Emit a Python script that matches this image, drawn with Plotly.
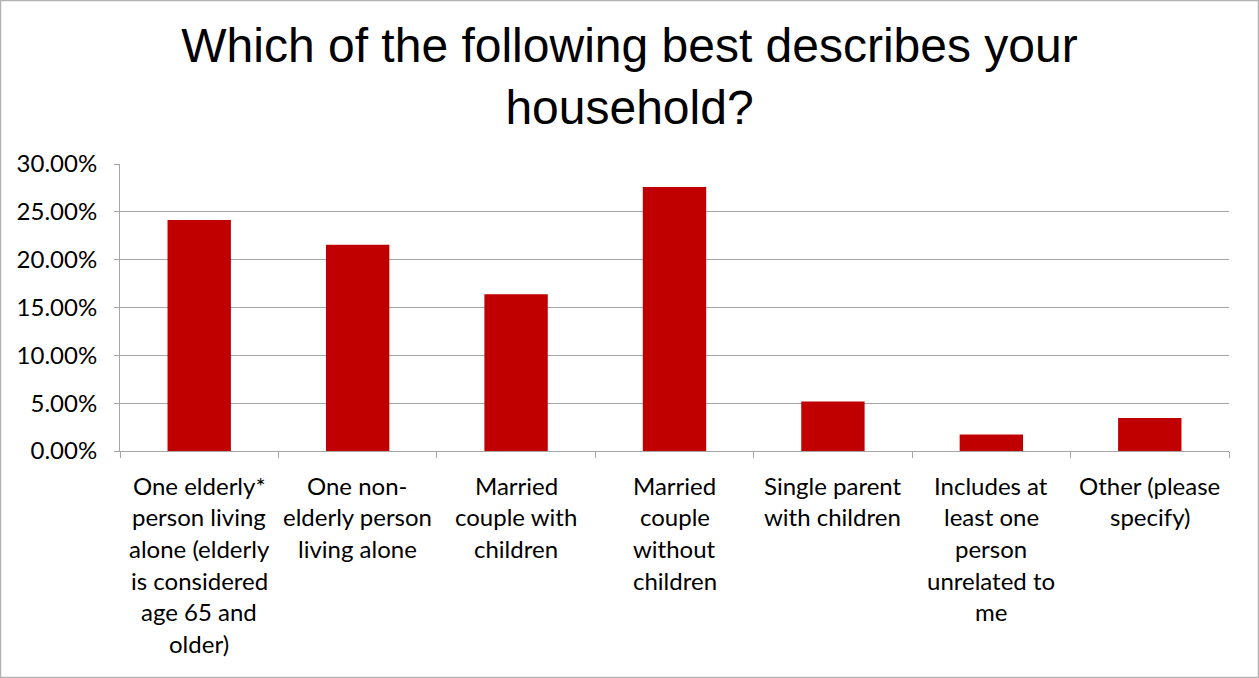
import plotly.graph_objects as go

# ---- data ----
categories = [
    "One elderly* person living alone (elderly is considered age 65 and older)",
    "One non-elderly person living alone",
    "Married couple with children",
    "Married couple without children",
    "Single parent with children",
    "Includes at least one person unrelated to me",
    "Other (please specify)",
]
label_lines = [
    ["One elderly*", "person living", "alone (elderly", "is considered", "age 65 and", "older)"],
    ["One non-", "elderly person", "living alone"],
    ["Married", "couple with", "children"],
    ["Married", "couple", "without", "children"],
    ["Single parent", "with children"],
    ["Includes at", "least one", "person", "unrelated to", "me"],
    ["Other (please", "specify)"],
]
values = [24.14, 21.55, 16.38, 27.59, 5.17, 1.72, 3.45]
y_ticks = [0, 5, 10, 15, 20, 25, 30]
y_tick_labels = ["0.00%", "5.00%", "10.00%", "15.00%", "20.00%", "25.00%", "30.00%"]
title_text = "Which of the following best describes your<br>household?"

# ---- layout constants ----
W, H = 1259, 678
ML, MR, MT, MB = 120, 30, 164, 227
PW, PH = W - ML - MR, H - MT - MB
GRID = "#A6A6A6"
LABEL_FONT = dict(family="Lato, Calibri, sans-serif", size=24, color="#000000")

fig = go.Figure(
    go.Bar(
        x=categories,
        y=values,
        marker=dict(color="#C00000", line=dict(width=0)),
        hoverinfo="x+y",
    )
)

annotations = []
for cat, lines in zip(categories, label_lines):
    for i, ln in enumerate(lines):
        annotations.append(dict(
            x=cat, y=0, xref="x", yref="y",
            text=ln, showarrow=False,
            xanchor="center", yanchor="middle",
            yshift=-(34 + i * 31.7),
            font=LABEL_FONT,
        ))

fig.update_layout(
    width=W, height=H,
    margin=dict(l=ML, r=MR, t=MT, b=MB, pad=0),
    paper_bgcolor="white", plot_bgcolor="white",
    bargap=0.6,
    showlegend=False,
    title=dict(
        text=title_text,
        x=0.5, xref="container", xanchor="center",
        y=1 - 62 / H, yref="container", yanchor="middle",
        font=dict(family="Liberation Sans, Arial, sans-serif", size=48, color="#000000"),
    ),
    xaxis=dict(
        type="category",
        showticklabels=False,
        showline=True, linecolor=GRID, linewidth=1,
        ticks="outside", tickson="boundaries", ticklen=6, tickcolor=GRID, tickwidth=1,
        showgrid=False, zeroline=False,
    ),
    yaxis=dict(
        range=[0, 30], tickvals=y_ticks, ticktext=y_tick_labels,
        tickfont=LABEL_FONT,
        showline=True, linecolor=GRID, linewidth=1,
        ticks="outside", ticklen=5, tickcolor=GRID, tickwidth=1,
        showgrid=True, gridcolor=GRID, gridwidth=1,
        zeroline=False,
        ticklabelstandoff=12,
    ),
    annotations=annotations,
    shapes=[dict(
        type="rect", xref="paper", yref="paper",
        x0=(0.5 - ML) / PW, x1=(W - 0.5 - ML) / PW,
        y0=-(MB - 0.5) / PH, y1=1 + (MT - 0.5) / PH,
        line=dict(color="#B3B3B3", width=1.5),
        fillcolor="rgba(0,0,0,0)", layer="above",
    )],
)

fig.write_html(
    "out.html",
    config={"displayModeBar": False},
    post_script="document.body.style.margin='0';document.body.style.overflow='hidden';",
)
